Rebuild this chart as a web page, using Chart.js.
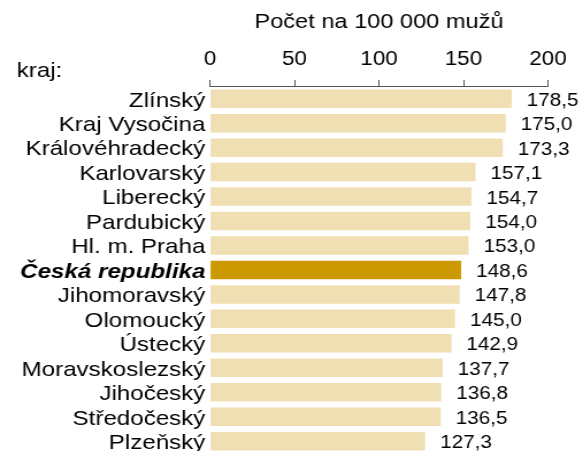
<!DOCTYPE html>
<html>
<head>
<meta charset="utf-8">
<script src="https://cdn.jsdelivr.net/npm/chart.js@4"></script>
<style>
  html, body { margin: 0; padding: 0; background: #fff; overflow: hidden; }
  /* the chart is laid out narrower and widened, giving the broad lettering */
  #wrap { width: 507px; height: 470px; position: relative;
          transform: scaleX(1.15); transform-origin: 0 0; }
</style>
</head>
<body>
<div id="wrap"><canvas id="c"></canvas></div>
<script>
// Regions and their rate per 100 000 men
const regions = ["Zlínský", "Kraj Vysočina", "Královéhradecký", "Karlovarský", "Liberecký",
  "Pardubický", "Hl. m. Praha", "Česká republika", "Jihomoravský", "Olomoucký",
  "Ústecký", "Moravskoslezský", "Jihočeský", "Středočeský", "Plzeňský"];
const rates = [178.5, 175.0, 173.3, 157.1, 154.7, 154.0, 153.0, 148.6, 147.8, 145.0,
  142.9, 137.7, 136.8, 136.5, 127.3];
const xTicks = [0, 50, 100, 150, 200];
const nationalLabel = "Česká republika";

const FONT = "'Liberation Sans', Arial, sans-serif";
const LIGHT = "#efdfb3";
const DARK = "#cc9900";

const barColors = regions.map(r => r === nationalLabel ? DARK : LIGHT);

// Writes the value after each bar, with a decimal comma
const valueLabels = {
  id: "valueLabels",
  afterDatasetsDraw(chart) {
    const ctx = chart.ctx;
    const meta = chart.getDatasetMeta(0);
    ctx.save();
    ctx.font = "18px " + FONT;
    ctx.fillStyle = "#000";
    ctx.textAlign = "left";
    ctx.textBaseline = "middle";
    meta.data.forEach((bar, i) => {
      const txt = rates[i].toFixed(1).replace(".", ",");
      ctx.fillText(txt, bar.x + 13, bar.y + 2);
    });
    ctx.restore();
  }
};

// Header of the category column
const columnHeader = {
  id: "columnHeader",
  afterDraw(chart) {
    const ctx = chart.ctx;
    ctx.save();
    ctx.font = "21px " + FONT;
    ctx.fillStyle = "#000";
    ctx.textAlign = "left";
    ctx.textBaseline = "alphabetic";
    ctx.fillText("kraj:", 14.5, 77);
    ctx.restore();
  }
};

new Chart(document.getElementById("c"), {
  type: "bar",
  data: {
    labels: regions,
    datasets: [{
      data: rates,
      backgroundColor: barColors,
      borderWidth: 0,
      barPercentage: 0.756,
      categoryPercentage: 1.0
    }]
  },
  options: {
    indexAxis: "y",
    responsive: true,
    maintainAspectRatio: false,
    animation: false,
    layout: { padding: { left: 0, right: 30.5, top: 0, bottom: 0 } },
    plugins: { legend: { display: false }, tooltip: { enabled: false } },
    scales: {
      x: {
        position: "top",
        min: 0,
        max: 200,
        afterBuildTicks(scale) { scale.ticks = xTicks.map(v => ({ value: v })); },
        ticks: { color: "#000", font: { family: FONT, size: 19.5 }, padding: 9, maxRotation: 0 },
        grid: { display: true, drawOnChartArea: false, drawTicks: true, tickLength: 6.5, color: "#555" },
        border: { display: true, color: "#555", width: 1 },
        title: {
          display: true,
          text: "Počet na 100 000 mužů",
          color: "#000",
          font: { family: FONT, size: 20.5 },
          padding: { top: 10, bottom: 4 }
        },
        afterFit(scale) { scale.height = 86.5; }
      },
      y: {
        ticks: {
          color: "#000",
          padding: 4,
          labelOffset: 2,
          autoSkip: false,
          font: (c) => c.index === regions.indexOf(nationalLabel)
            ? { family: FONT, size: 21, weight: "bold", style: "italic" }
            : { family: FONT, size: 21 }
        },
        grid: { display: false, drawTicks: false },
        border: { display: false },
        afterFit(scale) { scale.width = 182.6; }
      }
    }
  },
  plugins: [valueLabels, columnHeader]
});
</script>
</body>
</html>
